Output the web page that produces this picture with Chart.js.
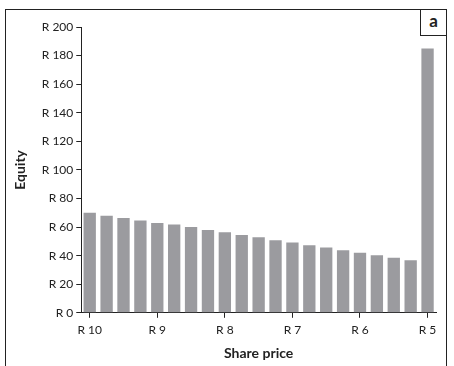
<!DOCTYPE html>
<html><head><meta charset="utf-8">
<script src="https://cdn.jsdelivr.net/npm/chart.js@4/dist/chart.umd.min.js"></script>
<style>
html,body{margin:0;padding:0;background:#fff;width:454px;height:366px;overflow:hidden}
#wrap{position:relative;width:454px;height:366px}
#c{position:absolute;left:0;top:0}
#frame{position:absolute;left:5px;top:9px;width:442px;height:400px;border:1px solid #222;box-sizing:border-box;pointer-events:none}
#tag{position:absolute;left:420px;top:9px;width:27px;height:27px;border:1px solid #222;box-sizing:border-box;font:bold 17px Lato,sans-serif;text-align:center;line-height:22px;color:#222;background:#fff}
</style></head>
<body><div id="wrap"><canvas id="c" width="454" height="366"></canvas><div id="frame"></div><div id="tag">a</div></div>
<script>
const sharePrice = [10, 9.75, 9.5, 9.25, 9, 8.75, 8.5, 8.25, 8, 7.75, 7.5, 7.25, 7, 6.75, 6.5, 6.25, 6, 5.75, 5.5, 5.25, 5];
const equity = [70, 68, 66.4, 64.6, 62.9, 61.8, 60.1, 58, 56.3, 54.5, 52.9, 50.8, 49.2, 47.3, 45.7, 43.8, 42, 40.3, 38.5, 36.8, 185];
const yTicks = [0, 20, 40, 60, 80, 100, 120, 140, 160, 180, 200];
const FONT = 'Lato, "Open Sans", sans-serif';
const INK = '#222';

new Chart(document.getElementById('c'), {
  type: 'bar',
  data: {
    labels: sharePrice.map(v => 'R ' + v),
    datasets: [{ data: equity, backgroundColor: '#9b9b9f', borderWidth: 0, barPercentage: 0.73, categoryPercentage: 1 }]
  },
  options: {
    responsive: false, animation: false, devicePixelRatio: 1,
    layout: { padding: { top: 27, right: 18, left: 12, bottom: 1 } },
    plugins: { legend: { display: false }, tooltip: { enabled: false } },
    scales: {
      x: {
        offset: true,
        grid: { offset: false, drawOnChartArea: false, tickLength: 5,
          color: ctx => Number.isInteger(sharePrice[ctx.index]) ? INK : 'rgba(0,0,0,0)' },
        border: { color: INK, width: 1 },
        ticks: { autoSkip: false, maxRotation: 0, padding: 5, color: INK, font: { family: FONT, size: 12 },
          callback: (v, i) => Number.isInteger(sharePrice[i]) ? 'R ' + sharePrice[i] : '' },
        title: { display: true, text: 'Share price', color: INK, font: { family: FONT, size: 14, weight: 'bold' }, padding: { top: 3, bottom: 3 } }
      },
      y: {
        min: 0, max: 200,
        afterBuildTicks: s => { s.ticks = yTicks.map(v => ({ value: v })); },
        grid: { drawOnChartArea: false, tickLength: 5, color: INK },
        border: { color: INK, width: 1 },
        ticks: { padding: 3, color: INK, font: { family: FONT, size: 12 }, callback: v => 'R ' + v },
        title: { display: true, text: 'Equity', color: INK, font: { family: FONT, size: 14, weight: 'bold' }, padding: { top: 0, bottom: 10 } }
      }
    }
  }
});
</script></body></html>
